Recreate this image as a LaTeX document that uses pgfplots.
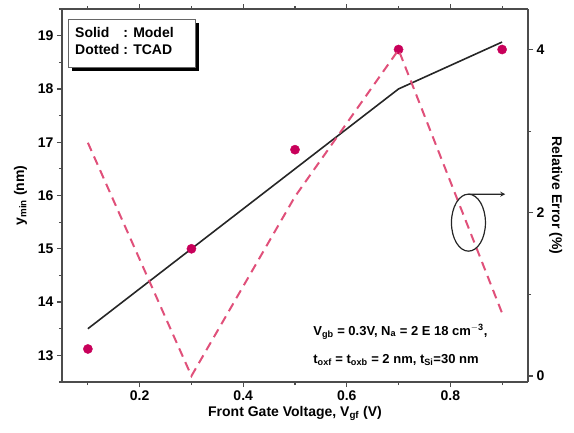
\documentclass[border=0pt]{standalone}
\usepackage{pgfplots}
\pgfplotsset{compat=1.18}
\usepackage{fontspec}
\setmainfont{Liberation Sans}
\definecolor{dotc}{HTML}{C8005A}
\definecolor{dashc}{HTML}{E0507A}
\begin{document}
\begin{tikzpicture}
\pgfplotsset{
  every axis/.append style={
    scale only axis, width=466pt, height=373pt,
    xmin=0.05, xmax=0.95,
    tick align=outside,
    axis line style={black!70, line width=2pt},
    major tick length=5pt, minor tick length=3pt,
    tick style={black!70, line width=1.2pt},
    ticklabel style={font=\fontsize{14}{16}\selectfont\bfseries},
    label style={font=\fontsize{14}{16}\selectfont\bfseries},
    /pgf/number format/assume math mode=true,
  }
}
\begin{axis}[
  axis y line*=left, axis x line*=box,
  ymin=12.5, ymax=19.5,
  ytick={13,14,...,19}, minor ytick={12.5,13.5,...,19.5},
  xtick={0.2,0.4,0.6,0.8}, minor xtick={0.1,0.3,0.5,0.7,0.9},
  xticklabel style={/pgf/number format/fixed, /pgf/number format/precision=1},
  xlabel={Front Gate Voltage, V$_{\mathbf{gf}}$ (V)},
  ylabel={y$_{\mathbf{min}}$ (nm)},
  xlabel style={yshift=1pt},
  ylabel style={yshift=4pt},
]
\addplot[black!85, line width=1.6pt] coordinates {(0.1,13.5) (0.3,15.0) (0.5,16.5) (0.7,18.0) (0.9,18.88)};
\addplot[only marks, mark=*, mark size=4.6pt, color=dotc] coordinates {(0.1,13.12) (0.3,15.0) (0.5,16.86) (0.7,18.74) (0.9,18.74)};
\node[draw=none, fill=black, minimum width=127pt, minimum height=48pt, anchor=north west] at ([xshift=10pt,yshift=-14pt]rel axis cs:0,1) {};
\node[draw=black!60, thin, fill=white, minimum width=127pt, minimum height=48pt, anchor=north west, inner sep=2pt] at ([xshift=6pt,yshift=-10pt]rel axis cs:0,1) {};
\node[anchor=north west, font=\fontsize{14}{17}\selectfont\bfseries, inner sep=0pt] at ([xshift=13pt,yshift=-16pt]rel axis cs:0,1) {%
  \begin{tabular}{@{}l@{\ }l@{}}Solid & : Model\\ Dotted & : TCAD\end{tabular}};
\node[anchor=west, font=\fontsize{13}{15}\selectfont\bfseries, inner sep=0pt] at (rel axis cs:0.539,0.134) {V$_{\mathbf{gb}}$ = 0.3V, N$_{\mathbf{a}}$ = 2 E 18 cm$^{\mathbf{-3}}$,};
\node[anchor=west, font=\fontsize{13}{15}\selectfont\bfseries, inner sep=0pt] at (rel axis cs:0.539,0.059) {t$_{\mathbf{oxf}}$ = t$_{\mathbf{oxb}}$ = 2 nm, t$_{\mathbf{Si}}$=30 nm};
\end{axis}
\begin{axis}[
  axis y line*=right, axis x line=none,
  ymin=-0.074, ymax=4.5,
  ytick={0,2,4}, minor ytick={1,3},
  ylabel={Relative Error (\%)},
  ylabel style={rotate=180, yshift=-2pt},
]
\addplot[dashc, line width=2pt, dash pattern=on 9pt off 6pt] coordinates {(0.1,2.86) (0.3,0.0) (0.5,2.2) (0.7,4.0) (0.9,0.77)};
\draw[black!85, line width=1.2pt] (axis cs:0.835,1.88) ellipse [x radius=17pt, y radius=28.5pt];
\draw[black!85, line width=1.2pt, -stealth] ([yshift=28.5pt]axis cs:0.835,1.88) -- (axis cs:0.906,2.229);
\end{axis}
\useasboundingbox (-62pt,-50pt) rectangle (512pt,382pt);
\end{tikzpicture}
\end{document}
